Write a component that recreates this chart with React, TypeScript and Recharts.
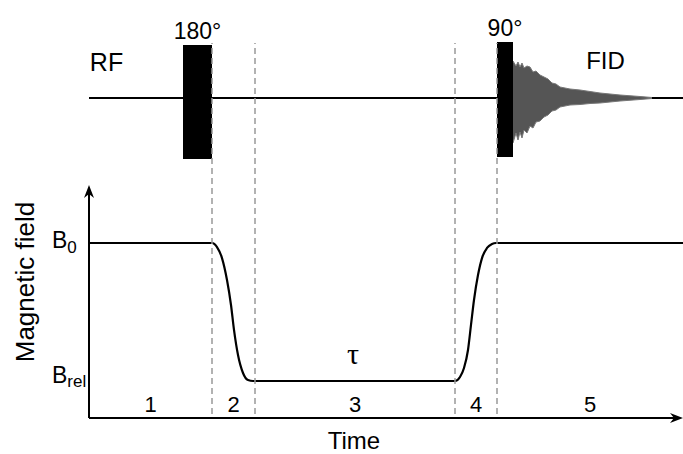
import React from 'react';
import {
  ComposedChart,
  Line,
  Area,
  XAxis,
  YAxis,
  ReferenceLine,
  ReferenceArea,
  ReferenceDot,
} from 'recharts';

// ---- time axis (arbitrary units) ----
const timeDomain = [0, 59.4];
const sectionBounds = [0, 12.3, 16.6, 36.6, 40.8, 59.4];
const sectionLabels = ['1', '2', '3', '4', '5'];
const dashedLineTimes = [12.3, 16.6, 36.6, 40.8];

// ---- magnetic field (B0 = 1, Brel = 0) ----
const fieldTime = [0, 12.3, 12.8, 13.3, 13.8, 14.2, 14.5, 14.9, 15.4, 15.9, 16.4, 36.6, 37.1, 37.5, 37.9, 38.2, 38.5, 38.9, 39.3, 39.8, 40.3, 40.7, 59.4];
const fieldValue = [1, 1, 0.971, 0.891, 0.732, 0.551, 0.37, 0.188, 0.058, 0.007, 0, 0, 0.029, 0.094, 0.225, 0.406, 0.587, 0.768, 0.891, 0.964, 0.993, 1, 1];
const fieldTicks = [0, 1];
const fieldTickMain = ['B', 'B'];
const fieldTickSub = ['rel', '0'];

// ---- RF channel ----
const rfBaseTime = [0, 42.4, 42.5, 56.3, 59.4];
const rfBaseValue: (number | null)[] = [0, 0, null, 0, 0];
const pulseLabels = ['180°', '90°'];
const pulseStart = [9.4, 40.8];
const pulseEnd = [12.3, 42.4];
const pulseTop = [5.3, 5.6];
const pulseBottom = [-6.1, -5.9];

// FID envelope (including visible spikes)
const fidTime = [42.4, 42.7, 42.9, 43.1, 43.3, 43.5, 43.8, 44.1, 44.4, 44.7, 45.1, 45.5, 45.9, 46.3, 46.7, 47.1, 47.6, 48.1, 49.1, 50.1, 51.1, 53.1, 55.1, 56.3];
const fidUpper = [3.7, 3.2, 3.6, 3.1, 3.5, 3.0, 3.2, 3.1, 2.6, 2.7, 2.3, 2.1, 1.9, 1.5, 1.4, 1.1, 1.0, 0.9, 0.8, 0.65, 0.5, 0.3, 0.15, 0.05];
const fidLower = [-4.5, -3.5, -4.2, -3.4, -4.0, -3.2, -3.5, -2.8, -3.0, -2.4, -2.3, -1.9, -1.7, -1.3, -1.2, -0.9, -0.8, -0.7, -0.65, -0.55, -0.5, -0.3, -0.15, -0.05];

const fieldData = fieldTime.map((t, i) => ({ t, b: fieldValue[i] }));
const rfBaseData = rfBaseTime.map((t, i) => ({ t, v: rfBaseValue[i] }));
const fidData = fidTime.map((t, i) => ({ t, range: [fidLower[i], fidUpper[i]] }));

const W = 683;
const H = 454;
const FONT = '"Liberation Sans", Arial, Helvetica, sans-serif';

const FieldTick = (props: any) => {
  const { x, y, payload } = props;
  const idx = fieldTicks.indexOf(payload.value);
  const isTop = payload.value === 1;
  return (
    <text x={x - 37} y={y + (isTop ? 5 : 2)} fontSize={23} fill="#000" textAnchor="start" fontFamily={FONT}>
      {fieldTickMain[idx]}
      <tspan fontSize={17} dy={isTop ? 5 : 4}>{fieldTickSub[idx]}</tspan>
    </text>
  );
};

const ArrowLine = (props: any) => {
  const { x1, y1, x2, y2 } = props;
  const dx = x2 - x1;
  const dy = y2 - y1;
  const len = Math.hypot(dx, dy) || 1;
  const ux = dx / len;
  const uy = dy / len;
  const L = 13;
  const Wd = 5;
  const bx = x2 - ux * L;
  const by = y2 - uy * L;
  const px = -uy;
  const py = ux;
  return (
    <g>
      <line x1={x1} y1={y1} x2={bx + ux * 4} y2={by + uy * 4} stroke="#000" strokeWidth={2} />
      <polygon
        points={`${x2},${y2} ${bx + px * Wd},${by + py * Wd} ${bx + ux * 4},${by + uy * 4} ${bx - px * Wd},${by - py * Wd}`}
        fill="#000"
      />
    </g>
  );
};

const textStyle = { fill: '#000', fontFamily: FONT };

export default function App() {
  const yMin = -0.268;
  return (
    <div style={{ position: 'absolute', left: 0, top: 0, width: W, height: H, background: '#fff', fontFamily: FONT }}>
      <ComposedChart width={W} height={H} margin={{ top: 0, right: 0, bottom: 36, left: 0 }}>
        <XAxis type="number" dataKey="t" domain={timeDomain} hide allowDataOverflow />
        <YAxis
          yAxisId="field"
          type="number"
          domain={[yMin, 2.761]}
          ticks={fieldTicks}
          interval={0}
          width={89}
          axisLine={false}
          tickLine={false}
          tickSize={0}
          tickMargin={0}
          tick={<FieldTick />}
          allowDataOverflow
        />
        <YAxis yAxisId="rf" type="number" domain={[-32, 9.8]} hide allowDataOverflow />

        {/* RF baseline */}
        <Line
          yAxisId="rf"
          data={rfBaseData}
          dataKey="v"
          type="linear"
          stroke="#000"
          strokeWidth={2}
          dot={false}
          activeDot={false}
          connectNulls={false}
          isAnimationActive={false}
        />
        {/* FID */}
        <Area
          yAxisId="rf"
          data={fidData}
          dataKey="range"
          type="linear"
          fill="#555"
          fillOpacity={1}
          stroke="#777"
          strokeWidth={1}
          dot={false}
          activeDot={false}
          isAnimationActive={false}
        />
        {/* RF pulses */}
        {pulseLabels.map((lbl, i) => (
          <ReferenceArea
            key={lbl}
            yAxisId="rf"
            x1={pulseStart[i]}
            x2={pulseEnd[i]}
            y1={pulseBottom[i]}
            y2={pulseTop[i]}
            fill="#000"
            fillOpacity={1}
            stroke="none"
            ifOverflow="visible"
            label={{ value: lbl, position: 'top', offset: 6, fontSize: 23, ...textStyle }}
          />
        ))}

        {/* Magnetic field curve */}
        <Line
          yAxisId="field"
          data={fieldData}
          dataKey="b"
          type="monotone"
          stroke="#000"
          strokeWidth={2.2}
          dot={false}
          activeDot={false}
          isAnimationActive={false}
        />

        {/* dashed section boundaries */}
        {dashedLineTimes.map((t) => (
          <ReferenceLine
            key={'d' + t}
            yAxisId="field"
            segment={[{ x: t, y: -0.239 }, { x: t, y: 2.449 }]}
            stroke="#999"
            strokeWidth={1.5}
            strokeDasharray="6 4"
            ifOverflow="visible"
          />
        ))}

        {/* axes with arrows */}
        <ReferenceLine
          yAxisId="field"
          segment={[{ x: 0, y: yMin }, { x: 0, y: 1.42 }]}
          ifOverflow="visible"
          shape={ArrowLine}
        />
        <ReferenceLine
          yAxisId="field"
          segment={[{ x: 0, y: yMin }, { x: timeDomain[1], y: yMin }]}
          ifOverflow="visible"
          shape={ArrowLine}
        />

        {/* section numbers */}
        {sectionLabels.map((s, i) => (
          <ReferenceArea
            key={'s' + s}
            yAxisId="field"
            x1={sectionBounds[i]}
            x2={sectionBounds[i + 1]}
            y1={yMin}
            y2={-0.065}
            fillOpacity={0}
            stroke="none"
            ifOverflow="visible"
            label={{ value: s, position: 'center', fontSize: 22, ...textStyle }}
          />
        ))}

        {/* annotations */}
        <ReferenceDot yAxisId="rf" x={1.75} y={3.55} r={0} fill="none" stroke="none" ifOverflow="visible"
          label={{ value: 'RF', position: 'center', fontSize: 25, ...textStyle }} />
        <ReferenceDot yAxisId="rf" x={51.65} y={3.8} r={0} fill="none" stroke="none" ifOverflow="visible"
          label={{ value: 'FID', position: 'center', fontSize: 24, ...textStyle }} />
        <ReferenceDot yAxisId="field" x={26.4} y={0.2} r={0} fill="none" stroke="none" ifOverflow="visible"
          label={{ value: 'τ', position: 'center', fontSize: 30, fill: '#000', fontFamily: '"Liberation Serif", "DejaVu Serif", serif' }} />
        <ReferenceDot yAxisId="field" x={26.5} y={-0.432} r={0} fill="none" stroke="none" ifOverflow="visible"
          label={{ value: 'Time', position: 'center', fontSize: 24, ...textStyle }} />
        <ReferenceDot yAxisId="field" x={-6.4} y={0.717} r={0} fill="none" stroke="none" ifOverflow="visible"
          label={{ value: 'Magnetic field', position: 'center', angle: -90, fontSize: 26, ...textStyle }} />
      </ComposedChart>
    </div>
  );
}
